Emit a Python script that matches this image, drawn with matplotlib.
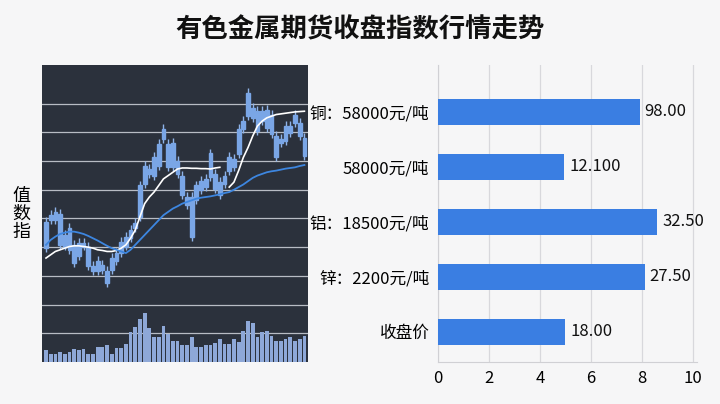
import matplotlib
matplotlib.use("Agg")
import matplotlib.pyplot as plt
from matplotlib.patches import Rectangle
import numpy as np

plt.rcParams['font.family'] = ['Noto Sans CJK SC', 'DejaVu Sans']

# candlestick body tops / bottoms (chart units, axis inverted: smaller = higher)
body_top = [475,455,445,450,515,495,545,540,540,550,610,595,605,625,585,570,535,520,500,480,
            365,305,315,280,240,195,240,235,290,335,400,400,365,350,345,268,330,355,335,278,
            285,195,170,85,130,140,140,135,150,215,225,185,185,150,175,220]
body_bot = [555,470,470,545,550,560,600,580,550,610,625,625,620,660,620,595,570,550,525,495,
            460,360,330,335,305,225,310,310,330,395,425,520,410,380,370,340,375,395,360,320,
            310,270,195,155,160,200,170,190,210,280,235,230,205,175,215,275]
volume_top = [865,875,875,870,875,870,860,865,860,875,875,855,855,850,875,858,858,845,810,795,
              770,752,798,825,825,790,815,835,835,850,848,825,855,855,848,848,842,830,845,845,
              830,838,805,775,782,825,808,805,820,835,835,830,825,835,830,820]
ma_fast = [585,575,565,560,555,550,548,548,550,552,555,560,562,565,565,562,555,545,525,500,
           460,420,400,385,365,345,335,325,315,312,312,313,313,314,314,315,312,310,np.nan,370,
           355,320,280,250,215,185,170,160,155,150,148,146,144,142,141,140]
ma_slow = [545,530,520,512,508,505,505,508,512,518,525,532,540,548,555,560,565,570,560,545,
           530,515,500,485,470,455,445,435,428,420,415,410,405,402,400,398,395,392,388,385,
           378,370,362,352,342,335,330,325,322,320,317,314,312,310,306,303]

categories = ['铜：58000元/吨', '58000元/吨', '铝：18500元/吨', '锌：2200元/吨', '收盘价']
bar_lengths = [7.9, 4.95, 8.6, 8.1, 5.0]
bar_labels = ['98.00', '12.100', '32.50', '27.50', '18.00']
x_ticks = [0, 2, 4, 6, 8, 10]

fig = plt.figure(figsize=(7.2, 4.04), dpi=100, facecolor='#f6f6f7')
fig.text(0.5, 0.925, '有色金属期货收盘指数行情走势', ha='center', va='center',
         fontsize=19, fontweight='bold', color='#111111')

ax = fig.add_axes([0.058, 0.104, 0.370, 0.735])
ax.set_facecolor('#2b313c')
n = len(body_top)
x = np.arange(n)
for yy in range(117, 900, 87):
    ax.axhline(yy, color='#b8bcc4', lw=0.9, zorder=0)
for i in range(n):
    t, b = body_top[i], body_bot[i]
    ax.vlines(i, t - 15, b + 12, color='#8fb3e8', lw=1, zorder=2)
    ax.add_patch(Rectangle((i - 0.4, t), 0.8, b - t, color='#7aa6e6', zorder=3))
vh = [v - 900 for v in volume_top]
ax.bar(x, vh, bottom=900, width=0.8, color='#8ea8d8', zorder=2)
ax.plot(x, ma_fast, color='white', lw=1.2, zorder=4)
ax.plot(x, ma_slow, color='#3d86e0', lw=1.3, zorder=4)
ax.set_xlim(-0.9, n - 0.2)
ax.set_ylim(900, 0)
ax.set_xticks([]); ax.set_yticks([])
for s in ax.spines.values():
    s.set_visible(False)
fig.text(0.030, 0.47, '值\n数\n指', ha='center', va='center', fontsize=13, linespacing=1.0)

ax2 = fig.add_axes([0.608, 0.104, 0.360, 0.735])
ax2.set_facecolor('#f6f6f7')
ypos = np.arange(len(categories))
ax2.barh(ypos, bar_lengths, height=0.48, color='#3a7ee2', zorder=3)
for yv, L, lab in zip(ypos, bar_lengths, bar_labels):
    ax2.text(L + 0.2, yv, lab, va='center', ha='left', fontsize=12, color='#111111')
ax2.set_yticks(ypos)
ax2.set_yticklabels(categories, fontsize=12)
ax2.set_xticks(x_ticks)
ax2.set_xticklabels([str(t) for t in x_ticks], fontsize=12)
ax2.set_xlim(0, 10.15)
ax2.set_ylim(len(categories) - 0.45, -0.85)
ax2.tick_params(length=0, pad=6)
ax2.xaxis.grid(True, color='#d8d8dc', lw=0.9, zorder=0)
for k in ['top', 'right']:
    ax2.spines[k].set_visible(False)
ax2.spines['left'].set_color('#d0d0d4')
ax2.spines['bottom'].set_color('#d0d0d4')

fig.savefig('out.png', dpi=100, facecolor=fig.get_facecolor())
